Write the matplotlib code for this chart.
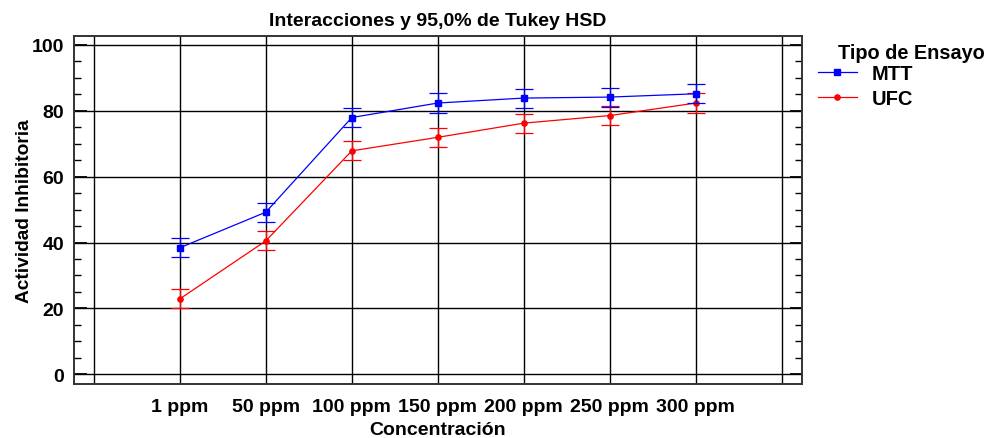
import matplotlib
matplotlib.use("Agg")
import matplotlib.pyplot as plt
from matplotlib.lines import Line2D
from matplotlib.ticker import MultipleLocator

plt.rcParams['font.family'] = ['Liberation Sans', 'DejaVu Sans']
plt.rcParams['font.weight'] = 'bold'

##
# Interaction means with 95% Tukey HSD intervals
##
concentrations = ['1 ppm', '50 ppm', '100 ppm', '150 ppm', '200 ppm', '250 ppm', '300 ppm']
mtt_means = [38.4, 49.2, 77.9, 82.3, 83.8, 84.1, 85.1]
ufc_means = [22.9, 40.5, 67.8, 71.9, 76.2, 78.5, 82.3]
hsd_halfwidth = [2.9, 2.9, 2.9, 2.9, 2.9, 2.9, 2.9]

xpos = list(range(1, len(concentrations) + 1))

fig = plt.figure(figsize=(9.84, 4.39), dpi=100)
ax = fig.add_axes([0.0752, 0.1223, 0.7395, 0.794])

ax.errorbar(xpos, mtt_means, yerr=hsd_halfwidth, color='#0000ff', lw=0.9,
            marker='s', ms=4, capsize=6.5, capthick=0.9, elinewidth=0.9, zorder=4)
ax.errorbar(xpos, ufc_means, yerr=hsd_halfwidth, color='#ff0000', lw=0.9,
            marker='o', ms=3.8, capsize=6.5, capthick=0.9, elinewidth=0.9, zorder=3)

# grid: horizontal every 20, vertical at each level plus the two empty slots
for v in range(0, 101, 20):
    ax.axhline(v, color='black', lw=1.0, zorder=1)
for x in range(0, len(concentrations) + 2):
    ax.axvline(x, color='black', lw=1.0, zorder=1)

ax.set_xlim(-0.23, 8.23)
ax.set_ylim(-3.0, 102.7)
ax.set_xticks(xpos)
ax.set_xticklabels(concentrations)
ax.yaxis.set_major_locator(MultipleLocator(20))
ax.yaxis.set_minor_locator(MultipleLocator(5))

ax.tick_params(axis='x', length=0, pad=10, labelsize=14)
ax.tick_params(axis='y', which='major', direction='in', length=9, width=1.3,
               left=True, right=True, pad=7, labelsize=14)
ax.tick_params(axis='y', which='minor', direction='in', length=5, width=1.0,
               left=True, right=True)

for s in ax.spines.values():
    s.set_color('#333333')
    s.set_linewidth(1.4)

ax.set_title('Interacciones y 95,0% de Tukey HSD', fontsize=14, fontweight='bold', pad=8)
ax.set_xlabel('Concentración', fontsize=14, fontweight='bold', labelpad=4.5)
ax.set_ylabel('Actividad Inhibitoria', fontsize=13.8, fontweight='bold', labelpad=-1)

# legend
fig.text(0.8515, 0.8775, 'Tipo de Ensayo', fontsize=14.3, fontweight='bold', va='center')
handles = [
    Line2D([], [], color='#0000ff', lw=0.9, marker='s', ms=4),
    Line2D([], [], color='#ff0000', lw=0.9, marker='o', ms=3.8),
]
fig.legend(handles, ['MTT', 'UFC'], loc='upper left', bbox_to_anchor=(0.831, 0.851),
           frameon=False, fontsize=14.5, handlelength=1.95, handletextpad=0.75,
           labelspacing=0.3, borderpad=0, borderaxespad=0)

fig.savefig('out.png', dpi=100)
